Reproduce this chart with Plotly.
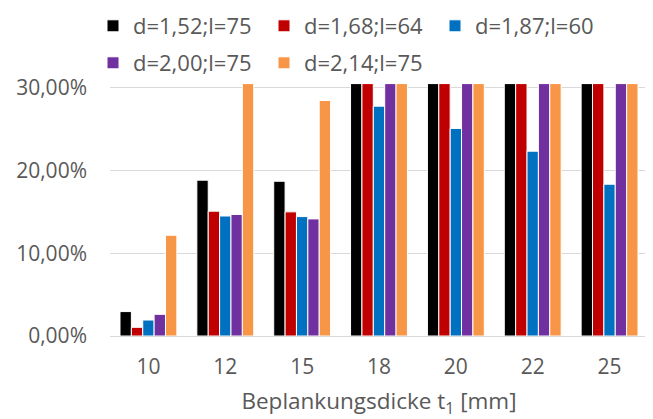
import plotly.graph_objects as go

categories = ["10", "12", "15", "18", "20", "22", "25"]
series_names = ["d=1,52;l=75", "d=1,68;l=64", "d=1,87;l=60", "d=2,00;l=75", "d=2,14;l=75"]
colors = ["#000000", "#C00000", "#0070C0", "#7030A0", "#F79646"]
# values in fraction; bars reaching the axis top are capped at the axis maximum
s_152 = [0.0295, 0.1883, 0.1870, 0.305, 0.305, 0.305, 0.305]
s_168 = [0.0105, 0.1508, 0.1500, 0.305, 0.305, 0.305, 0.305]
s_187 = [0.0193, 0.1450, 0.1443, 0.2777, 0.2508, 0.2233, 0.1834]
s_200 = [0.0262, 0.1468, 0.1415, 0.305, 0.305, 0.305, 0.305]
s_214 = [0.1217, 0.305, 0.2846, 0.305, 0.305, 0.305, 0.305]
values = [s_152, s_168, s_187, s_200, s_214]
y_max = 0.3045

FONT = "Open Sans"
GRAY = "#595959"
FS = 21

# page body adds an 8px offset; size the figure so it fills the window
W, H = 645, 411
ML, MR, MT, MB = 102, 5, 76, 83
PW, PH = W - ML - MR, H - MT - MB

def px_x(x):
    return (x - ML) / PW

def px_y(y):
    return (H - MB - y) / PH

fig = go.Figure()
for i, (name, vals, col) in enumerate(zip(series_names, values, colors)):
    fig.add_trace(go.Bar(
        x=categories, y=vals, name=name,
        marker=dict(color=col, line=dict(color="white", width=1)),
        legend="legend" if i < 3 else "legend2",
    ))

legend_common = dict(
    orientation="h", xref="paper", yref="paper",
    xanchor="left", yanchor="top",
    font=dict(family=FONT, size=22, color=GRAY),
    entrywidth=126, entrywidthmode="pixels", itemwidth=30,
    bgcolor="rgba(0,0,0,0)",
)

fig.update_layout(
    width=W, height=H,
    margin=dict(l=ML, r=MR, t=MT, b=MB, autoexpand=False),
    paper_bgcolor="white", plot_bgcolor="white",
    separators=",.",
    barmode="group", bargap=0.26, bargroupgap=0.0,
    font=dict(family=FONT, size=FS, color=GRAY),
    legend=dict(x=px_x(85), y=px_y(-3), **legend_common),
    legend2=dict(x=px_x(85), y=px_y(34), **legend_common),
    xaxis=dict(
        title=dict(text="Beplankungsdicke t<sub>1</sub> [mm]", font=dict(family=FONT, size=22.5, color=GRAY), standoff=18),
        tickfont=dict(family=FONT, size=FS, color=GRAY),
        showline=True, linecolor="#D9D9D9", linewidth=1,
        ticks="", ticklabelstandoff=12, automargin=False,
    ),
    yaxis=dict(
        range=[0, y_max], tickvals=[0, 0.1, 0.2, 0.3], tickformat=".2%",
        tickfont=dict(family=FONT, size=FS, color=GRAY),
        showgrid=True, gridcolor="#D9D9D9", gridwidth=1,
        zeroline=True, zerolinecolor="#D9D9D9", zerolinewidth=1,
        ticks="", ticklabelstandoff=22, automargin=False,
    ),
)

fig.write_html("out.html")
